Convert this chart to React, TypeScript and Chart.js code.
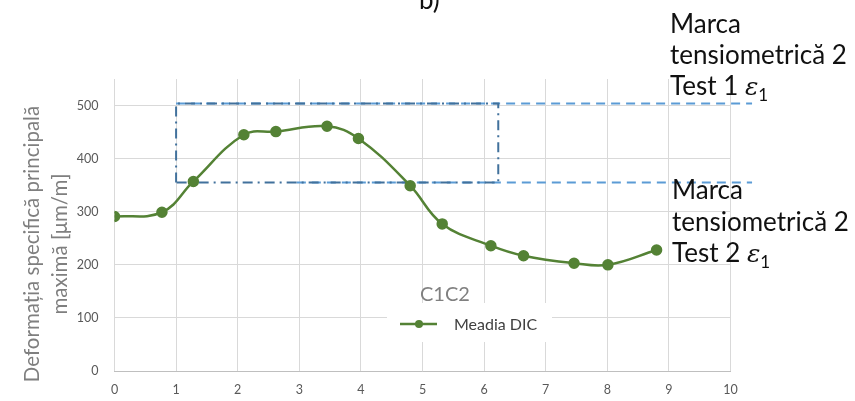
import React, { useEffect, useRef } from "react";
import { Chart, registerables } from "chart.js";

Chart.register(...registerables);

// Main series: "Meadia DIC"
const dicX = [0, 0.77, 1.28, 2.1, 2.62, 3.45, 3.96, 4.8, 5.32, 6.11, 6.64, 7.46, 8.01, 8.8];
const dicY = [291, 299, 357, 445, 451, 461, 438, 349, 277, 236, 217, 203, 200, 228];

// Dash-dot rectangle
const rectX = [1, 1, 6.23, 6.23, 1];
const rectY = [355, 504, 504, 355, 355];

// Strain gauge levels (dashed)
const test1X = [1, 10.35];
const test1Y = [504, 504];
const test2X = [2.96, 10.35];
const test2Y = [355, 355];

const xTickValues = [0, 1, 2, 3, 4, 5, 6, 7, 8, 9, 10];
const yTickValues = [0, 100, 200, 300, 400, 500];

const yTitleLines = ["Deformația specifică principală", "maximă [μm/m]"];
const legendTitle = "C1C2";
const seriesName = "Meadia DIC";
const panelLabel = "b)";

const toPts = (xs: number[], ys: number[]) => xs.map((x, i) => ({ x, y: ys[i] }));

const GREEN = "#548235";
const FONT = "Lato, 'Open Sans', sans-serif";

const overlayPlugin = {
  id: "overlay",
  afterDraw(chart: any) {
    const ctx: CanvasRenderingContext2D = chart.ctx;
    ctx.save();

    // Y axis title (rotated, two lines)
    ctx.fillStyle = "#7f7f7f";
    ctx.font = `20.5px ${FONT}`;
    ctx.textAlign = "center";
    ctx.textBaseline = "middle";
    const centers = [32, 60];
    yTitleLines.forEach((t, i) => {
      ctx.save();
      ctx.translate(centers[i], 244);
      ctx.rotate(-Math.PI / 2);
      ctx.fillText(t, 0, 0);
      ctx.restore();
    });

    // Panel label
    ctx.fillStyle = "#111";
    ctx.font = `26px ${FONT}`;
    ctx.textAlign = "left";
    ctx.textBaseline = "alphabetic";
    ctx.fillText(panelLabel, 419, 9);

    // Right annotations
    const drawAnno = (x: number, baselines: number[], testNo: string) => {
      ctx.fillStyle = "#111";
      ctx.font = `26px ${FONT}`;
      ctx.textAlign = "left";
      ctx.textBaseline = "alphabetic";
      ctx.fillText("Marca", x, baselines[0]);
      ctx.fillText("tensiometrică 2", x, baselines[1]);
      const pre = `Test ${testNo} `;
      ctx.fillText(pre, x, baselines[2]);
      let cx = x + ctx.measureText(pre).width;
      ctx.font = `italic 25px 'DejaVu Serif', serif`;
      ctx.fillText("ε", cx, baselines[2]);
      cx += ctx.measureText("ε").width;
      ctx.font = `17px ${FONT}`;
      ctx.fillText("1", cx, baselines[2] + 6);
    };
    drawAnno(670, [33, 64, 95], "1");
    drawAnno(672, [199, 231, 262], "2");

    // Legend
    ctx.fillStyle = "#ffffff";
    ctx.fillRect(387, 303, 165, 39);
    ctx.fillStyle = "#808080";
    ctx.font = `20px ${FONT}`;
    ctx.textBaseline = "alphabetic";
    ctx.fillText(legendTitle, 420, 301);
    ctx.strokeStyle = GREEN;
    ctx.lineWidth = 2.5;
    ctx.beginPath();
    ctx.moveTo(400, 324);
    ctx.lineTo(437, 324);
    ctx.stroke();
    ctx.fillStyle = GREEN;
    ctx.beginPath();
    ctx.arc(419, 324, 4, 0, Math.PI * 2);
    ctx.fill();
    ctx.fillStyle = "#404040";
    ctx.font = `16px ${FONT}`;
    ctx.textBaseline = "middle";
    ctx.fillText(seriesName, 454, 325);

    ctx.restore();
  },
};

export default function App() {
  const canvasRef = useRef<HTMLCanvasElement | null>(null);

  useEffect(() => {
    document.body.style.margin = "0";
    const canvas = canvasRef.current;
    if (!canvas) return;
    const dashed = (label: string, xs: number[], ys: number[]) => ({
      label,
      data: toPts(xs, ys),
      showLine: true,
      borderColor: "#5B9BD5",
      borderWidth: 2,
      borderDash: [9, 6],
      pointRadius: 0,
      clip: false as any,
      order: 3,
    });
    const chart = new Chart(canvas, {
      type: "scatter",
      data: {
        datasets: [
          dashed("Test 1", test1X, test1Y),
          dashed("Test 2", test2X, test2Y),
          {
            label: "Rect",
            data: toPts(rectX, rectY),
            showLine: true,
            borderColor: "#41719C",
            borderWidth: 2,
            borderDash: [10, 5, 2, 5],
            pointRadius: 0,
            order: 2,
          },
          {
            label: seriesName,
            data: toPts(dicX, dicY),
            showLine: true,
            borderColor: GREEN,
            backgroundColor: GREEN,
            borderWidth: 2.5,
            pointRadius: 4.5,
            pointBackgroundColor: GREEN,
            pointBorderColor: GREEN,
            tension: 0.4,
            order: 1,
          },
        ],
      },
      options: {
        animation: false,
        responsive: false,
        layout: { padding: { top: 79, right: 124.5, bottom: 0, left: 0 } },
        plugins: {
          legend: { display: false },
          tooltip: { enabled: false },
          title: { display: false },
        },
        scales: {
          x: {
            type: "linear",
            min: 0,
            max: 10,
            afterBuildTicks: (scale: any) => {
              scale.ticks = xTickValues.map((v) => ({ value: v }));
            },
            afterFit: (scale: any) => {
              scale.height = 30;
            },
            grid: { color: "#d9d9d9", drawTicks: false, lineWidth: 1 },
            border: { color: "#bfbfbf", width: 1 },
            ticks: {
              color: "#595959",
              font: { family: FONT, size: 12.5 },
              padding: 11,
            },
          },
          y: {
            type: "linear",
            min: 0,
            max: 550,
            afterBuildTicks: (scale: any) => {
              scale.ticks = yTickValues.map((v) => ({ value: v }));
            },
            afterFit: (scale: any) => {
              scale.width = 114.5;
            },
            grid: { color: "#d9d9d9", drawTicks: false, lineWidth: 1 },
            border: { display: false },
            ticks: {
              color: "#595959",
              font: { family: FONT, size: 12.5 },
              padding: 16,
            },
          },
        },
      },
      plugins: [overlayPlugin],
    } as any);
    return () => chart.destroy();
  }, []);

  return (
    <div style={{ position: "relative", width: 855, height: 401 }}>
      <canvas ref={canvasRef} width={855} height={401} style={{ display: "block" }} />
    </div>
  );
}
